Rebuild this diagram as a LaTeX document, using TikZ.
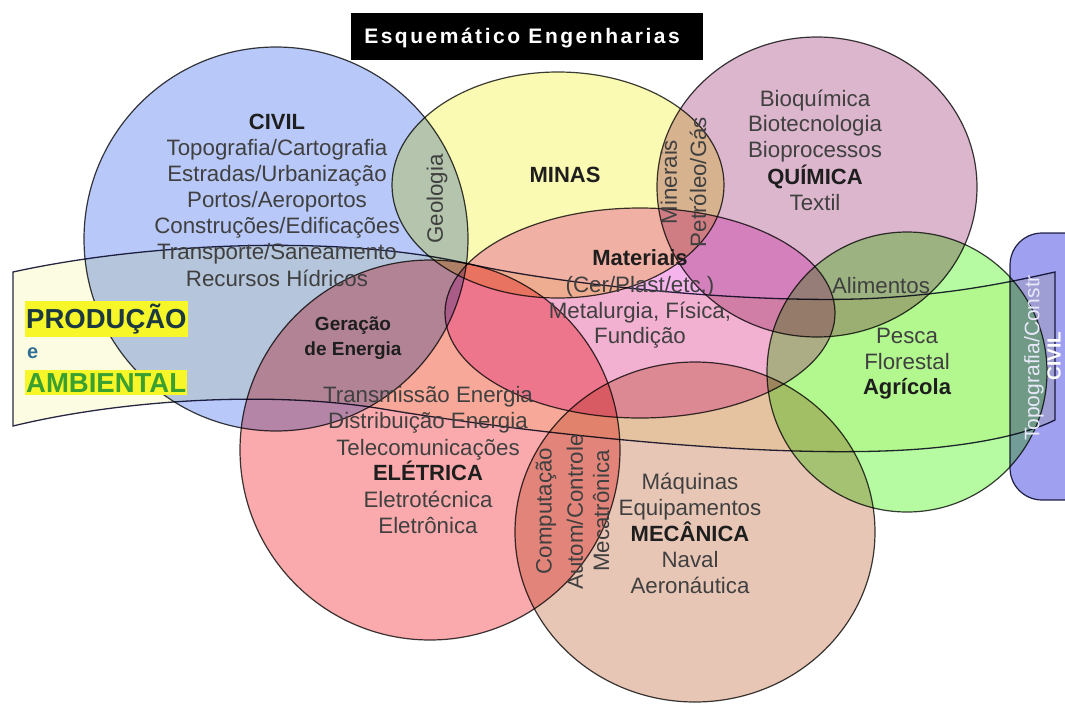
\documentclass[tikz,border=0pt]{standalone}
\usepackage{fontspec}
\setmainfont{Liberation Sans}
\newfontfamily\titlefont[LetterSpace=12]{Liberation Sans}
\definecolor{cCivil}{RGB}{184,200,248}
\definecolor{cMinas}{RGB}{250,250,178}
\definecolor{cQuim}{RGB}{220,182,204}
\definecolor{cMat}{RGB}{246,180,236}
\definecolor{cEle}{RGB}{250,170,172}
\definecolor{cMec}{RGB}{232,198,182}
\definecolor{cAgr}{RGB}{182,250,162}
\definecolor{cBlue}{RGB}{160,160,240}
\definecolor{cRib}{RGB}{252,252,226}
\definecolor{lineC}{RGB}{60,60,60}
\definecolor{ribC}{RGB}{40,40,72}
\definecolor{txtC}{RGB}{64,64,64}
\definecolor{txtB}{RGB}{30,30,30}
\definecolor{prodC}{RGB}{28,56,64}
\definecolor{eC}{RGB}{48,110,150}
\definecolor{ambC}{RGB}{58,160,48}
\definecolor{hiC}{RGB}{246,246,40}
\definecolor{wtxt}{RGB}{232,232,250}
\begin{document}
\begin{tikzpicture}[x=1pt,y=-1pt,
  shp/.style={draw=lineC, line width=1.2pt},
  ribbon/.style={draw=ribC, line width=1.3pt, fill=cRib},
  lbl/.style={font=\fontsize{22.3}{26}\selectfont, text=txtC, inner sep=0pt, anchor=base},
  hd/.style={lbl, font=\fontsize{22}{26}\selectfont\bfseries, text=txtB},
  sm/.style={lbl, font=\fontsize{19}{22}\selectfont\bfseries, text=txtB},
  rot/.style={font=\fontsize{22.3}{26}\selectfont, text=txtC, inner sep=0pt, rotate=90, anchor=center},
  hilite/.style={fill=hiC, inner xsep=1pt, inner ysep=3pt, anchor=base west, font=\fontsize{27.5}{30}\selectfont\bfseries}
]
\useasboundingbox (0,0) rectangle (1065,704);
\fill[white] (0,0) rectangle (1065,704);
\clip (0,0) rectangle (1065,704);

\begin{scope}[blend group=multiply]
  \path[shp, fill=cCivil] (276,239) circle[radius=192pt];
  \path[shp, fill=cMinas] (558,185) ellipse[x radius=166pt, y radius=113pt];
  \path[shp, fill=cQuim] (817,187) ellipse[x radius=160pt, y radius=150pt];
  \path[shp, fill=cMat] (640,313) ellipse[x radius=195pt, y radius=105pt];
  \path[shp, fill=cEle] (430,450) circle[radius=190pt];
  \path[shp, fill=cMec] (695,532) ellipse[x radius=180pt, y radius=170pt];
  \path[shp, fill=cAgr] (907,372) circle[radius=140pt];
  \path[shp, fill=cBlue, draw=ribC, rounded corners=32pt] (1010,233) rectangle (1130,500);
  \path[ribbon] (13,272) .. controls (150,242) and (340,235) .. (465,263)
     .. controls (560,285) and (760,305) .. (880,298)
     .. controls (960,293) and (1010,282) .. (1055,272) -- (1055,420)
     .. controls (1035,430) and (1000,440) .. (950,446)
     .. controls (800,465) and (520,432) .. (383,409)
     .. controls (270,390) and (120,400) .. (13,426) -- cycle;
\end{scope}

% title
\node[fill=black, minimum width=352pt, minimum height=47pt, inner sep=0pt] (titlebox) at (527,36.5) {};
\node[anchor=base, inner sep=0pt, text=white, font=\titlefont\fontsize{21}{24}\selectfont\bfseries] (title) at (522,43.5) {Esquemático Engenharias};

% CIVIL
\node[hd] (civil) at (277,129) {CIVIL};
\node[lbl] (c1) at (277,155) {Topografia/Cartografia};
\node[lbl] (c2) at (277,181.5) {Estradas/Urbanização};
\node[lbl] (c3) at (277,207.5) {Portos/Aeroportos};
\node[lbl] (c4) at (277,233.5) {Construções/Edificações};
\node[lbl] (c5) at (277,259.5) {Transporte/Saneamento};
\node[lbl] (c6) at (277,286) {Recursos Hídricos};

% MINAS
\node[hd] (minas) at (565,182) {MINAS};
\node[rot] (geo) at (437,199) {Geologia};
\node[rot] (miner) at (669,182) {Minerais};
\node[rot] (petro) at (698,182) {Petróleo/Gás};

% QUIMICA
\node[lbl] (q1) at (815,106) {Bioquímica};
\node[lbl] (q2) at (815,131.5) {Biotecnologia};
\node[lbl] (q3) at (815,157) {Bioprocessos};
\node[hd] (quim) at (815,184) {QUÍMICA};
\node[lbl] (q4) at (815,210) {Textil};

% Materiais
\node[hd] (mat) at (640,265) {Materiais};
\node[lbl] (m1) at (640,292) {(Cer/Plast/etc.)};
\node[lbl] (m2) at (640,318) {Metalurgia, Física,};
\node[lbl] (m3) at (640,343) {Fundição};

% Geracao
\node[sm] (ger1) at (353,330) {Geração};
\node[sm] (ger2) at (353,355) {de Energia};

% ELETRICA
\node[lbl] (e1) at (428,402) {Transmissão Energia};
\node[lbl] (e2) at (428,428) {Distribuição Energia};
\node[lbl] (e3) at (428,455) {Telecomunicações};
\node[hd] (ele) at (428,480) {ELÉTRICA};
\node[lbl] (e4) at (428,507) {Eletrotécnica};
\node[lbl] (e5) at (428,533) {Eletrônica};

% lens
\node[rot] (comp) at (546,511) {Computação};
\node[rot] (auto) at (575,512) {Autom/Controle};
\node[rot] (meca) at (601,511) {Mecatrônica};

% MECANICA
\node[lbl] (k1) at (690,489) {Máquinas};
\node[lbl] (k2) at (690,515) {Equipamentos};
\node[hd] (mec) at (690,541) {MECÂNICA};
\node[lbl] (k3) at (690,567) {Naval};
\node[lbl] (k4) at (690,593) {Aeronáutica};

% Agricola
\node[lbl] (ali) at (881,293) {Alimentos};
\node[lbl] (a1) at (907,343) {Pesca};
\node[lbl] (a2) at (907,369) {Florestal};
\node[hd] (agr) at (907,394) {Agrícola};

% right blue
\node[rot, text=wtxt, font=\fontsize{21}{24}\selectfont] (topo) at (1034,358) {Topografia/Constr};
\node[rot, text=white, font=\fontsize{19}{22}\selectfont\bfseries] (civil2) at (1054,356) {CIVIL};

% left
\node[hilite, text=prodC] (prod) at (25,328) {PRODUÇÃO};
\node[anchor=base west, inner sep=0pt, text=eC, font=\fontsize{20}{22}\selectfont\bfseries] (e) at (27,358) {e};
\node[hilite, text=ambC] (amb) at (25,392) {AMBIENTAL};
\end{tikzpicture}
\end{document}
